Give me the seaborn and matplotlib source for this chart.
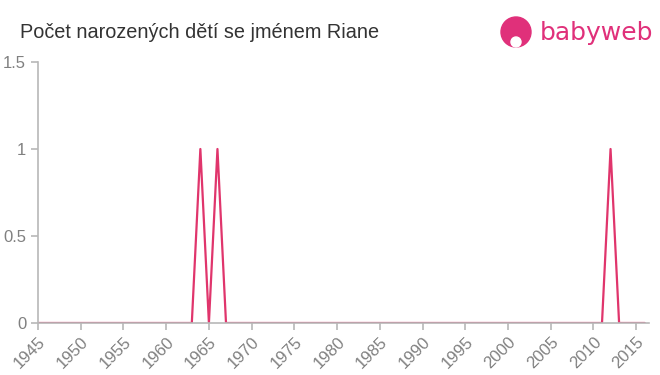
import numpy as np
import pandas as pd
import matplotlib
matplotlib.use("Agg")
import matplotlib.pyplot as plt
import seaborn as sns
from matplotlib.patches import Circle

years = list(range(1945, 2017))
peak_years = [1964, 1966, 2012]
peak_values = [1, 1, 1]
counts = [peak_values[peak_years.index(y)] if y in peak_years else 0 for y in years]
x_ticks = list(range(1945, 2016, 5))
y_ticks = [0, 0.5, 1, 1.5]
y_tick_labels = ["0", "0.5", "1", "1.5"]
title = "Počet narozených dětí se jménem Riane"

df = pd.DataFrame({"rok": years, "pocet": counts})

sns.set_style("ticks")
plt.rcParams['font.family'] = ['Liberation Sans', 'DejaVu Sans']

fig = plt.figure(figsize=(6.6, 3.75), dpi=100)
ax = fig.add_axes([38/660, 1-323/375, (649-38)/660, (323-62)/375])

sns.lineplot(data=df, x="rok", y="pocet", ax=ax, color="#e0356c", linewidth=1.6)

ax.set_xlim(1945, 2016.5)
ax.set_ylim(0, 1.5)
ax.set_xticks(x_ticks)
ax.set_xticklabels([str(t) for t in x_ticks], rotation=45, ha="right", rotation_mode="anchor")
ax.set_yticks(y_ticks)
ax.set_yticklabels(y_tick_labels)
ax.set_xlabel("")
ax.set_ylabel("")
for s in ["top", "right"]:
    ax.spines[s].set_visible(False)
for s in ["left", "bottom"]:
    ax.spines[s].set_color("#b8b8b8")
    ax.spines[s].set_linewidth(1.2)
ax.tick_params(axis="both", colors="#b8b8b8", labelcolor="#808080", labelsize=12, length=5, width=1.2)
ax.tick_params(axis="x", labelsize=12, pad=3)

fig.text(20/660, 1-33/375, title, fontsize=14.3, color="#333333", va="center", ha="left")

# logo
logo_ax = fig.add_axes([0, 0, 1, 1], facecolor="none")
logo_ax.set_xlim(0, 660)
logo_ax.set_ylim(375, 0)
logo_ax.axis("off")
logo_ax.add_patch(Circle((516, 32), 15, color="#e0307a"))
logo_ax.add_patch(Circle((516, 42), 5, color="white"))
logo_ax.text(540, 33, "babyweb", fontsize=18, color="#e0307a", va="center", ha="left",
             family="DejaVu Sans")

fig.savefig("out.png", dpi=100)
